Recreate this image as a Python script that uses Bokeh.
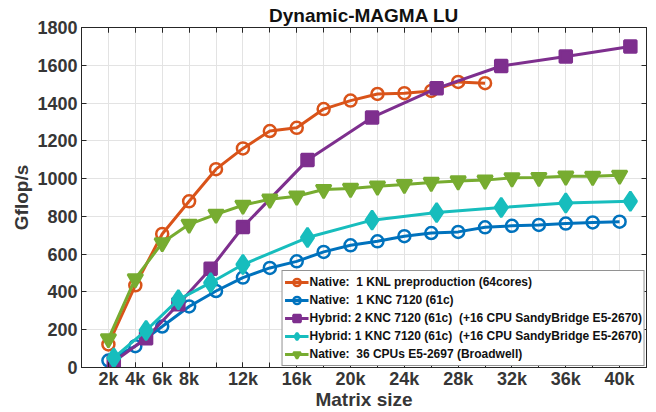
from bokeh.plotting import figure
from bokeh.models import FixedTicker, LinearAxis, Range1d, Legend, LegendItem
from bokeh.embed import file_html
from bokeh.resources import INLINE

# ---- data (matrix size N, Gflop/s) ----
n_even = [2000, 4000, 6000, 8000, 10000, 12000, 14000, 16000, 18000, 20000,
          22000, 24000, 26000, 28000, 30000, 32000, 34000, 36000, 38000, 40000]
n_knl = [2000, 4000, 6000, 8000, 10000, 12000, 14000, 16000, 18000, 20000,
         22000, 24000, 26000, 28000, 30000]
n_hybrid = [2400, 4800, 7200, 9600, 12000, 16800, 21600, 26400, 31200, 36000, 40800]

knl_native = [122, 435, 707, 880, 1050, 1160, 1252, 1269, 1368, 1413,
              1448, 1452, 1464, 1512, 1505]
knc_native = [37, 113, 217, 323, 405, 476, 527, 562, 612, 647,
              668, 695, 712, 718, 742, 750, 755, 762, 768, 772]
hybrid_2knc = [30, 155, 335, 523, 744, 1098, 1324, 1478, 1596, 1646, 1699]
hybrid_1knc = [51, 196, 359, 449, 545, 688, 780, 820, 847, 871, 880]
cpu_native = [152, 470, 660, 758, 811, 859, 891, 907, 942, 948,
              960, 969, 980, 988, 992, 1004, 1006, 1013, 1012, 1018]

labels = ["Native:  1 KNL preproduction (64cores)",
          "Native:  1 KNC 7120 (61c)",
          "Hybrid: 2 KNC 7120 (61c)  (+16 CPU SandyBridge E5-2670)",
          "Hybrid: 1 KNC 7120 (61c)  (+16 CPU SandyBridge E5-2670)",
          "Native:  36 CPUs E5-2697 (Broadwell)"]

x_label_ticks = [2000, 4000, 6000, 8000, 12000, 16000, 20000, 24000, 28000,
                 32000, 36000, 40000]
x_tick_labels = ["2k", "4k", "6k", "8k", "12k", "16k", "20k", "24k", "28k",
                 "32k", "36k", "40k"]
x_all_ticks = [2000, 4000, 6000, 8000, 10000, 12000, 14000, 16000, 18000, 20000,
               22000, 24000, 26000, 28000, 30000, 32000, 34000, 36000, 38000, 40000]
y_ticks = [0, 200, 400, 600, 800, 1000, 1200, 1400, 1600, 1800]

FONT = "Liberation Sans"
AX = "#262626"
TXT = "#363636"
GRID = "#e3e3e3"

p = figure(width=656, height=412, x_range=Range1d(0, 42000), y_range=Range1d(0, 1800),
           output_backend="svg", toolbar_location=None,
           min_border_left=81, min_border_right=10, min_border_top=27, min_border_bottom=45)
p.background_fill_color = "white"
p.border_fill_color = "white"
p.outline_line_color = AX
p.outline_line_width = 1

p.title.text = "Dynamic-MAGMA LU"
p.title.align = "center"
p.title.text_font = FONT
p.title.text_font_size = "19px"
p.title.text_font_style = "bold"
p.title.text_color = "#111111"
p.title.standoff = 3

xt = FixedTicker(ticks=x_label_ticks, minor_ticks=x_all_ticks)
yt = FixedTicker(ticks=y_ticks)
p.xaxis.ticker = xt
p.yaxis.ticker = yt
p.xaxis.major_label_overrides = dict(zip(x_label_ticks, x_tick_labels))
p.xgrid.ticker = xt
p.ygrid.ticker = yt
for g in (p.xgrid[0], p.ygrid[0]):
    g.grid_line_color = GRID
    g.grid_line_width = 1
p.xgrid.minor_grid_line_color = GRID
p.xgrid.minor_grid_line_width = 1

for ax in (p.xaxis[0], p.yaxis[0]):
    ax.axis_line_color = AX
    ax.major_tick_line_color = AX
    ax.major_tick_in = 5
    ax.major_tick_out = 0
    ax.minor_tick_in = 5
    ax.minor_tick_out = 0
    ax.minor_tick_line_color = AX
    ax.major_label_text_font = FONT
    ax.major_label_text_font_size = "18px"
    ax.major_label_text_font_style = "bold"
    ax.major_label_text_color = TXT
    ax.axis_label_text_font = FONT
    ax.axis_label_text_font_size = "19px"
    ax.axis_label_text_font_style = "bold"
    ax.axis_label_text_color = TXT
p.yaxis.minor_tick_line_color = None
p.xaxis.axis_label = "Matrix size"
p.yaxis.axis_label = "Gflop/s"
p.xaxis.major_label_standoff = 1
p.yaxis.major_label_standoff = 4
p.xaxis.axis_label_standoff = -3
p.yaxis.axis_label_standoff = 2

for loc, tk in (("right", yt), ("above", xt)):
    a = LinearAxis(ticker=tk, major_tick_in=5, major_tick_out=0,
                   minor_tick_in=5, minor_tick_out=0,
                   minor_tick_line_color=AX if loc == "above" else None,
                   axis_line_color=AX, major_tick_line_color=AX,
                   major_label_text_font_size="1px", major_label_text_color=None,
                   major_label_standoff=0)
    p.add_layout(a, loc)

series = [
    (n_knl, knl_native, "#D95319", "circle", 12, None),
    (n_even, knc_native, "#0072BD", "circle", 12, None),
    (n_hybrid, hybrid_2knc, "#7E2F8E", "square", 12, "#7E2F8E"),
    (n_hybrid, hybrid_1knc, "#17BDBD", "diamond", 19, "#17BDBD"),
    (n_even, cpu_native, "#77AC30", "inverted_triangle", 15, "#77AC30"),
]
items = []
for (xs, ys, col, mk, sz, fc), lab in zip(series, labels):
    l = p.line(xs, ys, line_color=col, line_width=3)
    s = p.scatter(xs, ys, marker=mk, size=sz, line_color=col, line_width=2.5,
                  fill_color=fc)
    items.append(LegendItem(label=lab, renderers=[l, s]))

legend = Legend(items=items, location="bottom_right")
legend.label_text_font = FONT
legend.label_text_font_size = "12px"
legend.label_text_font_style = "bold"
legend.label_text_color = "#111111"
legend.label_height = 18
legend.glyph_height = 18
legend.glyph_width = 24
legend.label_standoff = 1
legend.padding = 2
legend.spacing = 0
legend.margin = 1
legend.border_line_color = AX
legend.border_line_width = 1
legend.background_fill_alpha = 1
p.add_layout(legend)

open("out.html", "w").write(file_html(p, INLINE))
